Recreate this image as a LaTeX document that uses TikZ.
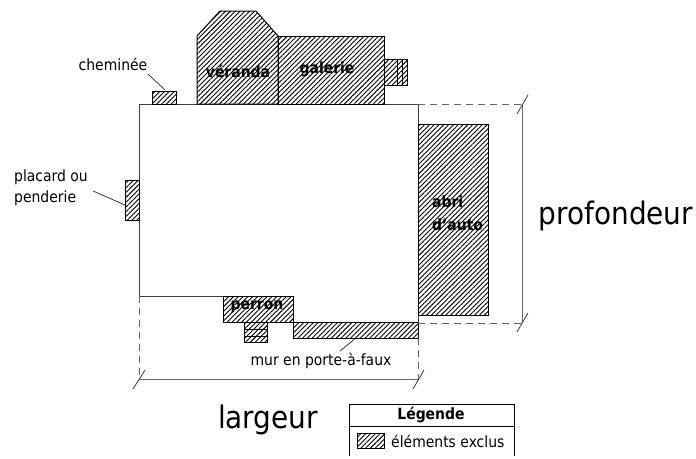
\documentclass[tikz,border=0pt]{standalone}
\usepackage{fontspec}
\setmainfont{DejaVu Sans Condensed}
\usetikzlibrary{patterns.meta}
\tikzset{
    wall/.style={line width=0.9pt,draw=black!75},
    part/.style={line width=1pt,draw=black,pattern={Lines[angle=45,distance=3.4pt,line width=0.9pt]}},
    leader/.style={line width=0.7pt,draw=black!85},
    dimline/.style={line width=0.9pt,draw=black!60},
    dashline/.style={line width=0.9pt,draw=black!60,dash pattern=on 7pt off 5pt},
    note/.style={font=\fontsize{15.5}{21}\selectfont,align=left,inner sep=0pt},
    partname/.style={font=\fontsize{15.5}{23}\selectfont\bfseries,align=left,inner sep=0pt},
    bigname/.style={font=\fontsize{31}{34}\selectfont,inner sep=0pt},
}
\begin{document}
\begin{tikzpicture}[x=1pt,y=-1pt]
\useasboundingbox (0,0) rectangle (696,458);
% house
\draw[wall] (139,296) -- (139,104) -- (418,104) -- (418,338);
\draw[wall] (139,296) -- (223,296);
% hatched parts
\draw[part] (197,104) -- (197,36) -- (220,11) -- (256,11) -- (278,36) -- (278,104) -- cycle;
\draw[part] (278,36) rectangle (384,104);
\draw[part] (384,59) rectangle (407,85);
\draw[line width=0.8pt] (397,59) -- (397,85) (402,59) -- (402,85);
\draw[part] (152,91) rectangle (176,104);
\draw[part] (125,180) rectangle (139,220);
\draw[part] (223,296) rectangle (293,322);
\draw[part] (244,322) rectangle (267,342);
\draw[line width=0.8pt] (244,329) -- (267,329) (244,336) -- (267,336);
\draw[part] (293,322) rectangle (418,338);
\draw[part] (418,124) rectangle (488,315);
% part names
\node[partname] (veranda) at (238,71) {véranda};
\node[partname] (galerie) at (327,69) {galerie};
\node[partname] (perron) at (257,307) {perron};
\node[partname,anchor=west] (abri) at (432,213) {abri\\d'auto};
% notes
\node[note] (cheminee) at (113,64) {cheminée};
\node[note,anchor=west] (placard) at (14,188) {placard ou\\penderie};
\node[note] (mur) at (321,361) {mur en porte-à-faux};
\coordinate (cheminee1) at (148,74);
\coordinate (cheminee2) at (165,90);
\coordinate (placard1) at (93,191);
\coordinate (placard2) at (125,205);
\coordinate (mur1) at (340,351);
\coordinate (mur2) at (356,338);
\draw[leader] (cheminee1) -- (cheminee2);
\draw[leader] (placard1) -- (placard2);
\draw[leader] (mur1) -- (mur2);
% dimensions
\coordinate (bl) at (139,379);
\coordinate (br) at (418,379);
\coordinate (rt) at (522,104);
\coordinate (rb) at (522,323);
\draw[dashline] (139,296) -- (bl);
\draw[dashline] (418,338) -- (br);
\draw[dashline] (418,104) -- (rt);
\draw[dashline] (418,323) -- (rb);
\draw[dimline] (bl) -- (br);
\draw[dimline] (rt) -- (rb);
\draw[leader] (133,389) -- (145,370);
\draw[leader] (413,389) -- (424,370);
\draw[leader] (517,114) -- (528,95);
\draw[leader] (517,332) -- (528,313);
\node[bigname] (largeur) at (268,420) {largeur};
\node[bigname] (profondeur) at (616,216) {profondeur};
% legend
\draw[line width=0.8pt] (349,456) -- (349,404) -- (514,404) -- (514,456);
\draw[line width=0.8pt] (349,426) -- (514,426);
\node[note,font=\fontsize{15.5}{17}\selectfont\bfseries] (legende) at (431,415) {Légende};
\draw[part] (357,433) rectangle (384,448);
\node[note,anchor=west] (exclus) at (391,441) {éléments exclus};
\end{tikzpicture}
\end{document}
